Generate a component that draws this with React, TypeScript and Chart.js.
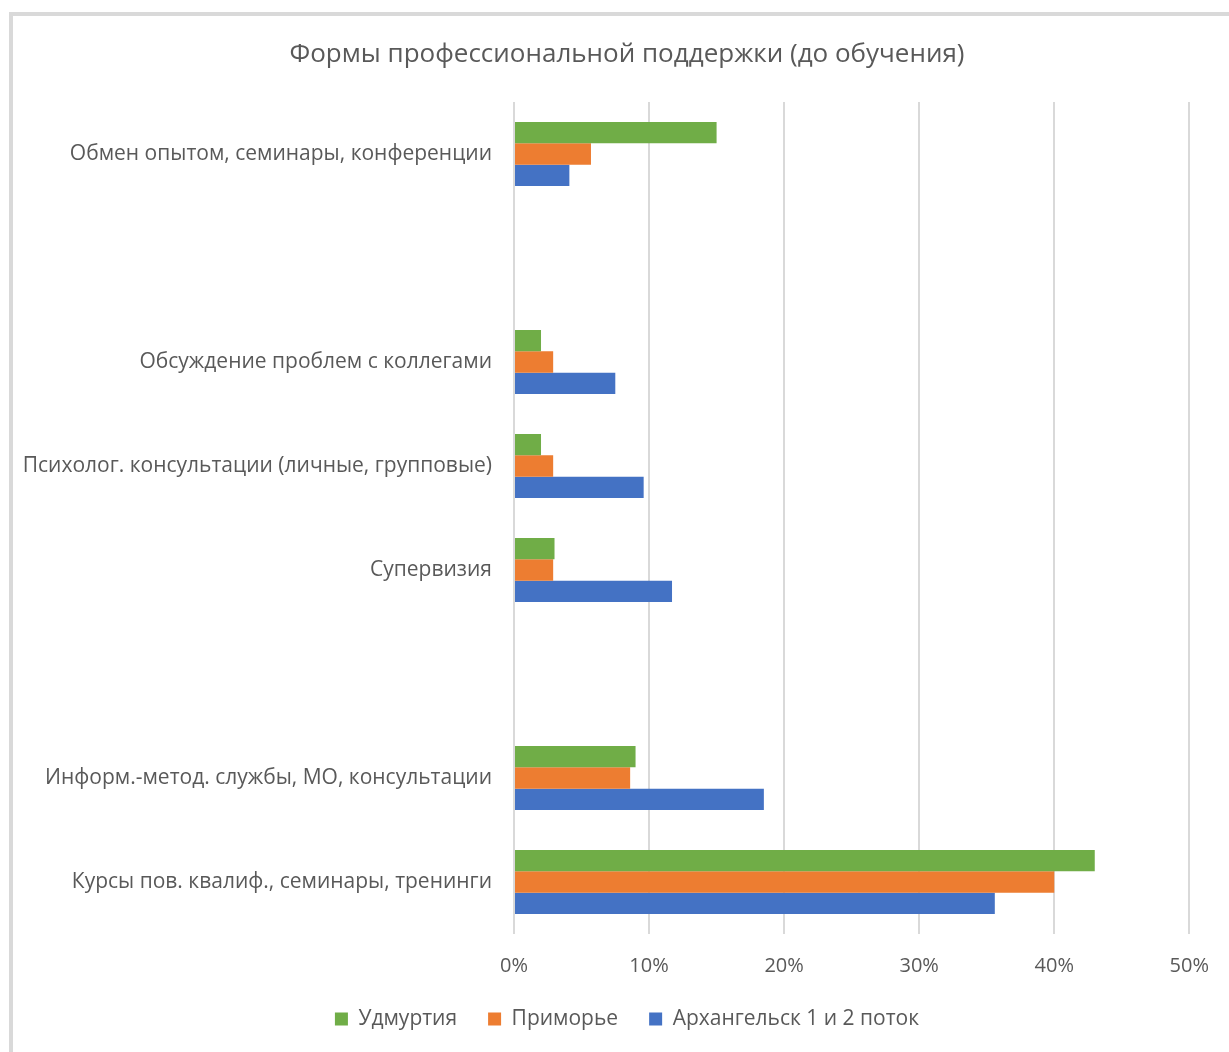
import React, { useEffect, useRef } from "react";
import { Chart, registerables } from "chart.js";

Chart.register(...registerables);

const categories: string[] = [
  "Обмен опытом, семинары, конференции",
  "",
  "Обсуждение проблем с коллегами",
  "Психолог. консультации (личные, групповые)",
  "Супервизия",
  "",
  "Информ.-метод. службы, МО, консультации",
  "Курсы пов. квалиф., семинары, тренинги",
];
const seriesNames: string[] = ["Удмуртия", "Приморье", "Архангельск 1 и 2 поток"];
const udmurtia: (number | null)[] = [15.0, null, 2.0, 2.0, 3.0, null, 9.0, 43.0];
const primorye: (number | null)[] = [5.7, null, 2.9, 2.9, 2.9, null, 8.6, 40.0];
const arkhangelsk: (number | null)[] = [4.1, null, 7.5, 9.6, 11.7, null, 18.5, 35.6];
const xMin = 0;
const xMax = 50;
const xStep = 10;
const title = "Формы профессиональной поддержки (до обучения)";

const FONT = "'Open Sans', 'Noto Sans', sans-serif";
const TEXT = "#595959";

const widenYLabels = {
  id: "widenYLabels",
  afterLayout(chart: any) {
    const y = chart.scales.y;
    if (y) y.left = 0;
  },
};

export default function App() {
  const ref = useRef<HTMLCanvasElement | null>(null);
  useEffect(() => {
    if (!ref.current) return;
    const chart = new Chart(ref.current, {
      type: "bar",
      data: {
        labels: categories,
        datasets: [
          { label: seriesNames[0], data: udmurtia, backgroundColor: "#70AD47" },
          { label: seriesNames[1], data: primorye, backgroundColor: "#ED7D31" },
          { label: seriesNames[2], data: arkhangelsk, backgroundColor: "#4472C4" },
        ],
      },
      plugins: [widenYLabels],
      options: {
        indexAxis: "y",
        animation: false,
        responsive: false,
        maintainAspectRatio: false,
        datasets: { bar: { categoryPercentage: 0.615, barPercentage: 1 } },
        layout: { padding: { left: 63, right: 38, top: 0, bottom: 12.5 } },
        plugins: {
          title: {
            display: true,
            text: title,
            color: TEXT,
            font: { family: FONT, size: 26, weight: "normal", lineHeight: 1.2 },
            padding: { top: 39.4, bottom: 31.4 },
          },
          legend: {
            position: "bottom",
            labels: {
              color: TEXT,
              font: { family: FONT, size: 21 },
              boxWidth: 13,
              boxHeight: 13,
              padding: 31,
            },
          },
          tooltip: { enabled: false },
        },
        scales: {
          x: {
            min: xMin,
            max: xMax,
            ticks: {
              stepSize: xStep,
              color: TEXT,
              font: { family: FONT, size: 20 },
              padding: 20,
              callback: (v: any) => v + "%",
            },
            grid: { color: "#d9d9d9", lineWidth: 2, drawTicks: false },
            border: { display: false },
            afterFit: (s: any) => {
              s.height = 43.5;
            },
          },
          y: {
            ticks: {
              color: TEXT,
              font: { family: FONT, size: 21 },
              padding: 22,
              autoSkip: false,
            },
            grid: { display: false, drawTicks: false },
            border: { display: false },
            afterFit: (s: any) => {
              s.width = 514 - 63;
            },
          },
        },
      },
    });
    return () => chart.destroy();
  }, []);
  return (
    <div style={{ position: "absolute", left: 0, top: 0, width: 1229, height: 1052, overflow: "hidden", background: "#fff" }}>
      <div
        style={{
          position: "absolute",
          left: 9,
          top: 12,
          width: 1400,
          height: 1200,
          border: "4px solid #d9d9d9",
        }}
      />
      <canvas ref={ref} width={1229} height={1052} style={{ position: "absolute", left: 0, top: 0 }} />
    </div>
  );
}
